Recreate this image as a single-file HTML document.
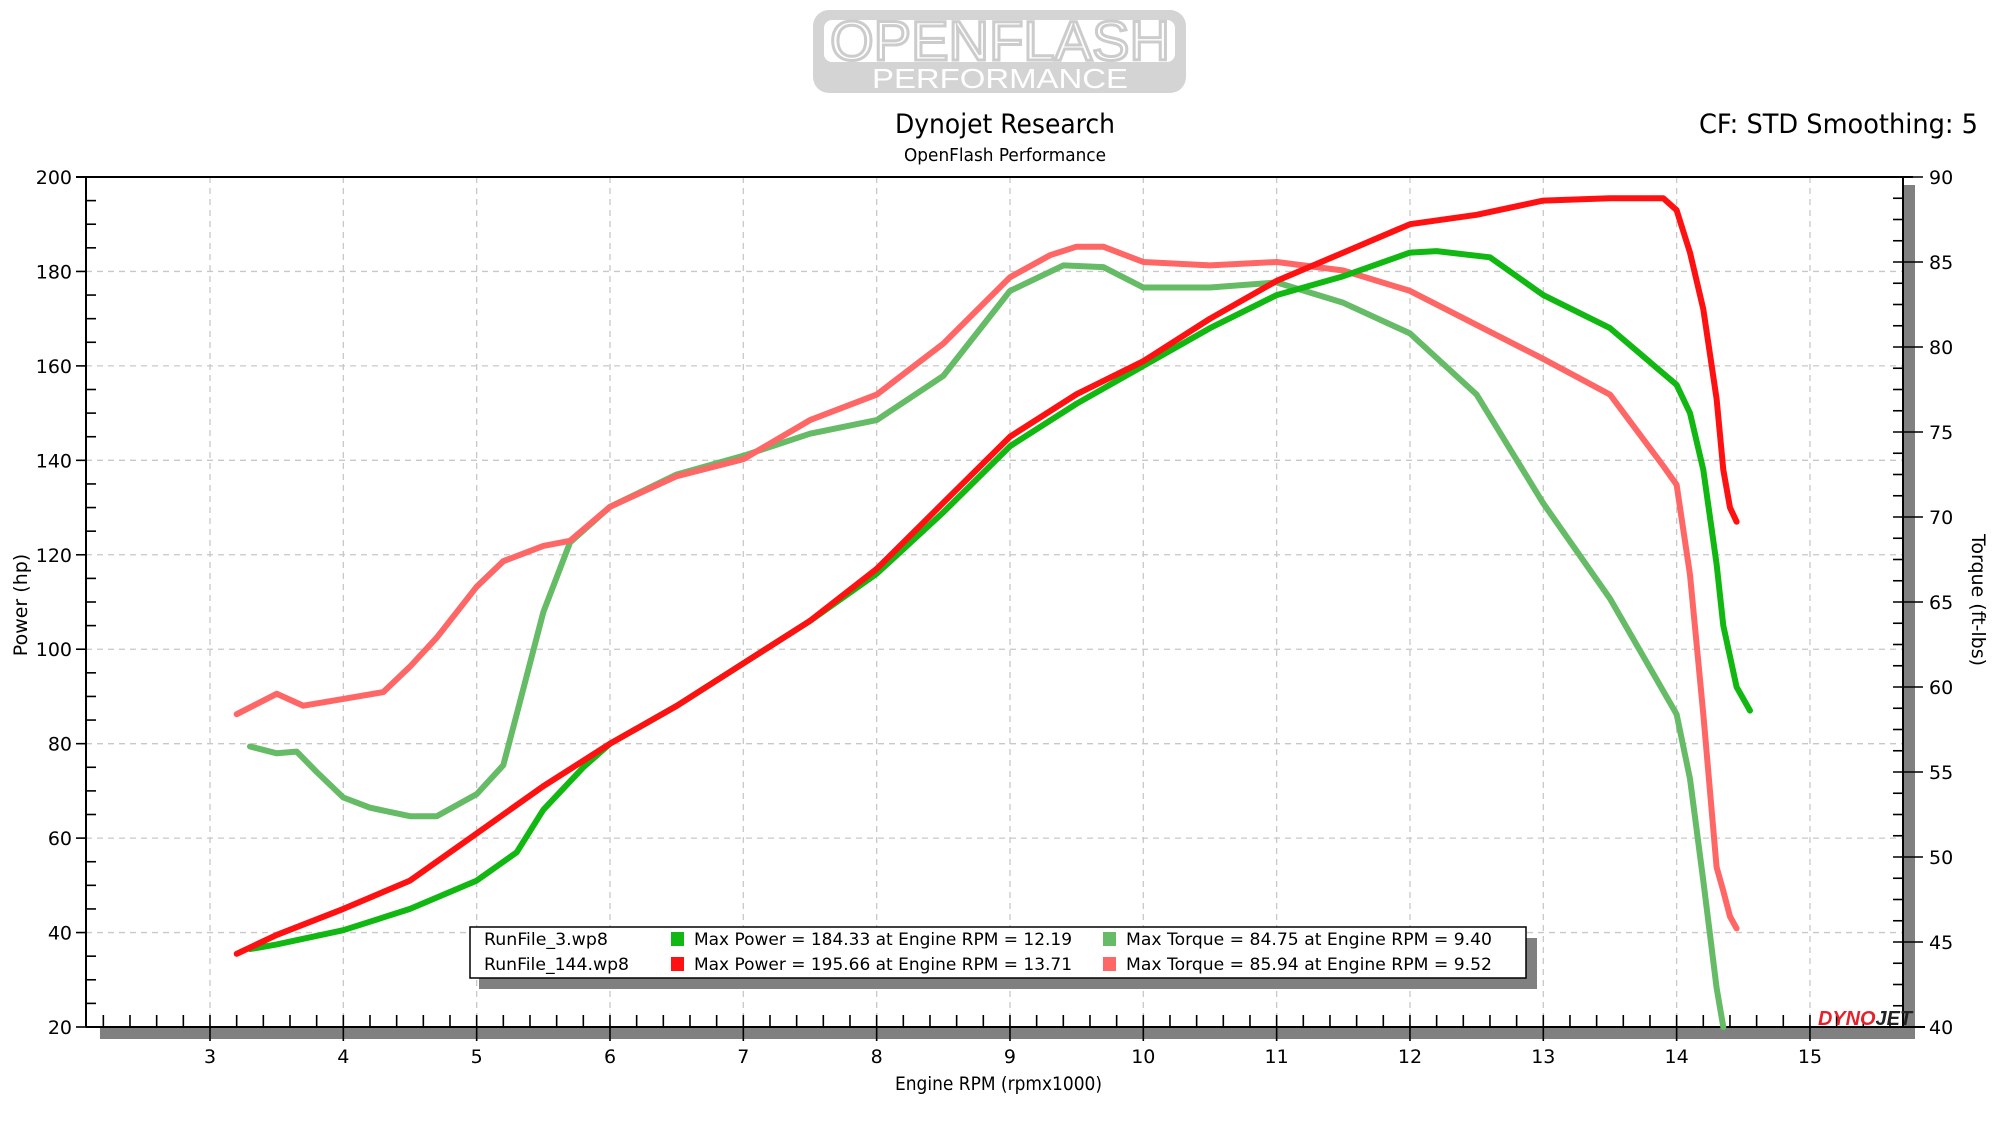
<!DOCTYPE html>
<html><head><meta charset="utf-8"><style>
html,body{margin:0;padding:0;background:#fff;}
svg{display:block;font-family:"DejaVu Sans","Liberation Sans",sans-serif;}
</style></head><body>
<svg id="chart" width="2000" height="1125" viewBox="0 0 2000 1125">
<g>
<rect x="813" y="10" width="373" height="83" rx="16" fill="#d4d4d4"/>
<rect x="824" y="20" width="351" height="42" rx="8" fill="#fff"/>
<text x="830" y="60" font-size="56" font-family="Liberation Sans, sans-serif" fill="#fff" stroke="#cccccc" stroke-width="3" textLength="340" lengthAdjust="spacingAndGlyphs">OPENFLASH</text>
<text x="872" y="88" font-size="28" font-family="Liberation Sans, sans-serif" fill="#fff" textLength="256" lengthAdjust="spacingAndGlyphs">PERFORMANCE</text>
</g>
<text x="895" y="133" font-size="27" fill="#000" textLength="220" lengthAdjust="spacingAndGlyphs">Dynojet Research</text>
<text x="904" y="161" font-size="18" fill="#000" textLength="202" lengthAdjust="spacingAndGlyphs">OpenFlash Performance</text>
<text x="1699" y="133" font-size="27" fill="#000" textLength="279" lengthAdjust="spacingAndGlyphs">CF: STD Smoothing: 5</text>
<g id="plot"></g>
</svg>
<script>
const rpmTicks=[3,4,5,6,7,8,9,10,11,12,13,14,15];
const hpTicks=[20,40,60,80,100,120,140,160,180,200];
const tqTicks=[40,45,50,55,60,65,70,75,80,85,90];
const rpmPower144=[3.2,3.5,4,4.5,5,5.5,6,6.5,7,7.5,8,8.5,9,9.5,10,10.5,11,11.5,12,12.5,13,13.5,13.9,14.0,14.1,14.2,14.3,14.35,14.4,14.45];
const hpPower144=[35.5,39.5,45,51,61,71,80,88,97,106,117,131,145,154,161,170,178,184,190,192,195,195.5,195.5,193,184,172,153,138,130,127];
const rpmPower3=[3.3,3.5,4,4.5,5,5.3,5.5,5.8,6,6.5,7,7.5,8,8.5,9,9.5,10,10.5,11,11.5,12,12.2,12.6,13,13.5,14,14.1,14.2,14.3,14.35,14.45,14.55];
const hpPower3=[36.5,37.5,40.5,45,51,57,66,75,80,88,97,106,116,129,143,152,160,168,175,179,184,184.3,183,175,168,156,150,138,118,105,92,87];
const rpmTorque144=[3.2,3.5,3.7,4,4.3,4.5,4.7,5,5.2,5.5,5.7,6,6.5,7,7.5,8,8.5,9,9.3,9.5,9.7,10,10.5,11,11.5,12,12.5,13,13.5,13.9,14.0,14.1,14.2,14.3,14.35,14.4,14.45];
const tqTorque144=[58.4,59.6,58.9,59.3,59.7,61.2,62.9,65.9,67.4,68.3,68.6,70.6,72.4,73.4,75.7,77.2,80.2,84.1,85.4,85.9,85.9,85.0,84.8,85.0,84.5,83.3,81.3,79.3,77.2,73,71.9,66.6,58.4,49.4,48,46.5,45.8];
const rpmTorque3=[3.3,3.5,3.65,3.8,4,4.2,4.5,4.7,5,5.2,5.3,5.5,5.7,6,6.5,7,7.5,8,8.5,9,9.4,9.7,10,10.5,11,11.5,12,12.5,13,13.5,14,14.1,14.2,14.3,14.35];
const tqTorque3=[56.5,56.1,56.2,55,53.5,52.9,52.4,52.4,53.7,55.4,58.4,64.4,68.5,70.6,72.5,73.6,74.9,75.7,78.3,83.3,84.8,84.7,83.5,83.5,83.8,82.6,80.8,77.2,70.8,65.2,58.4,54.6,48.6,42.3,40];

const L=86,R=1903,T=177,B=1027;
const X=r=>210+(r-3)*133.33;
const Y=h=>B-(h-20)/180*(B-T);
const YT=t=>B-(t-40)/50*(B-T);
const NS='http://www.w3.org/2000/svg';
const g=document.getElementById('plot');
function mk(tag,attrs,parent){const e=document.createElementNS(NS,tag);for(const k in attrs)e.setAttribute(k,attrs[k]);(parent||g).appendChild(e);return e;}

let s1=mk('rect',{x:R,y:T+8,width:12,height:B-T+4,fill:'#808080'});


let s2=mk('rect',{x:100,y:B,width:R+12-100,height:12,fill:'#808080'});



rpmTicks.forEach(r=>{const x=X(r);
 let l=mk('line',{x1:x,y1:T,x2:x,y2:B,stroke:'#c8c8c8','stroke-dasharray':'6,5','stroke-width':1.3});
 
 
});
hpTicks.forEach(h=>{const y=Y(h);
 let l=mk('line',{x1:L,y1:y,x2:R,y2:y,stroke:'#c8c8c8','stroke-dasharray':'6,5','stroke-width':1.3});
 
 
});
mk('line',{x1:L-10,y1:T,x2:R+10,y2:T,stroke:'#000','stroke-width':2});
mk('line',{x1:L,y1:T,x2:L,y2:B,stroke:'#000','stroke-width':2});
mk('line',{x1:R,y1:T,x2:R,y2:B,stroke:'#000','stroke-width':2});
mk('line',{x1:L,y1:B,x2:R+22,y2:B,stroke:'#000','stroke-width':2});
for(let h=20;h<=200;h+=5){const y=Y(h);const major=h%20===0;
 mk('line',{x1:major?L-10:L,y1:y,x2:major?L:L+10,y2:y,stroke:'#000','stroke-width':1.6});}
hpTicks.forEach(h=>{let t=mk('text',{x:L-14,y:Y(h)+7,'text-anchor':'end','font-size':19});t.textContent=h;
 
 });
for(let t=40;t<=90;t+=1.25){const y=YT(t);const major=Math.abs(t%5)<0.01;
 mk('line',{x1:R-10,y1:y,x2:major?R+20:R,y2:y,stroke:'#000','stroke-width':1.6});}
tqTicks.forEach(v=>{let t=mk('text',{x:R+26,y:YT(v)+7,'font-size':19});t.textContent=v;
 
 });
for(let r=2.2;r<15.7;r+=0.2){const x=X(r);const major=Math.abs(r-Math.round(r))<0.01;
 mk('line',{x1:x,y1:B-12,x2:x,y2:major?B+14:B,stroke:'#000','stroke-width':1.6});}
rpmTicks.forEach(r=>{let t=mk('text',{x:X(r),y:B+36,'text-anchor':'middle','font-size':19});t.textContent=r;
 
 });
let xt=mk('text',{x:895,y:1090,'font-size':19,textLength:207,lengthAdjust:'spacingAndGlyphs'});xt.textContent='Engine RPM (rpmx1000)';


let yt=mk('text',{x:0,y:0,'text-anchor':'middle','font-size':19,transform:'translate(27,605) rotate(-90)'});yt.textContent='Power (hp)';


let y2=mk('text',{x:0,y:0,'text-anchor':'middle','font-size':19,transform:'translate(1972,600) rotate(90)'});y2.textContent='Torque (ft-lbs)';



function series(xs,ys,yf,color,name){
 const d=xs.map((r,i)=>(i?'L':'M')+X(r).toFixed(1)+','+yf(ys[i]).toFixed(1)).join(' ');
 const p=mk('path',{d:d,fill:'none',stroke:color,'stroke-width':6,'stroke-linejoin':'round','stroke-linecap':'round'});
 
 
}
series(rpmTorque3,tqTorque3,YT,'#66bb66','torque-runfile-3');
series(rpmTorque144,tqTorque144,YT,'#ff6666','torque-runfile-144');
series(rpmPower3,hpPower3,Y,'#11b811','power-runfile-3');
series(rpmPower144,hpPower144,Y,'#ff1111','power-runfile-144');

let dj=mk('text',{x:1818,y:1025,'font-size':20,'font-weight':'bold','font-style':'italic','font-family':'Liberation Sans, sans-serif',textLength:94,lengthAdjust:'spacingAndGlyphs'});
dj.innerHTML='<tspan fill="#e8202a">DYNO</tspan><tspan fill="#222">JET</tspan>';



const lg=mk('g',{});


mk('rect',{x:479,y:938,width:1058,height:51,fill:'#808080'},lg);
mk('rect',{x:470,y:927,width:1056,height:51,fill:'#fff',stroke:'#000','stroke-width':1.5},lg);
const rows=[['RunFile_3.wp8',124,'#11b811','Max Power = 184.33 at Engine RPM = 12.19','#66bb66','Max Torque = 84.75 at Engine RPM = 9.40'],
['RunFile_144.wp8',145,'#ff1111','Max Power = 195.66 at Engine RPM = 13.71','#ff6666','Max Torque = 85.94 at Engine RPM = 9.52']];
rows.forEach((r,i)=>{const y=939+i*25;
 let a=mk('text',{x:484,y:y+6,'font-size':17,textLength:r[1],lengthAdjust:'spacingAndGlyphs'},lg);a.textContent=r[0];
 
 
 mk('rect',{x:671,y:y-7,width:13,height:14,fill:r[2]},lg);
 let b=mk('text',{x:694,y:y+6,'font-size':17,textLength:378,lengthAdjust:'spacingAndGlyphs'},lg);b.textContent=r[3];
 
 
 mk('rect',{x:1103,y:y-7,width:13,height:14,fill:r[4]},lg);
 let c=mk('text',{x:1126,y:y+6,'font-size':17,textLength:366,lengthAdjust:'spacingAndGlyphs'},lg);c.textContent=r[5];
 
 
});
</script>
</body></html>
